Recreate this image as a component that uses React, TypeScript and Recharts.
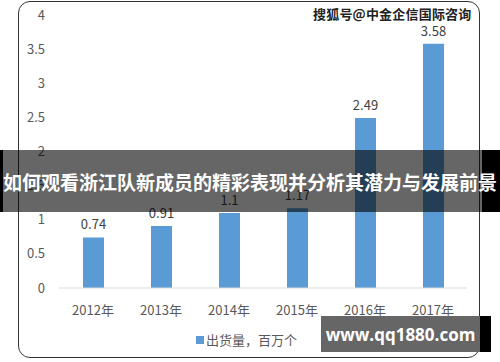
import React from 'react';
import { BarChart, Bar, XAxis, YAxis, LabelList } from 'recharts';

const years = ['2012年', '2013年', '2014年', '2015年', '2016年', '2017年'];
const shipments = [0.74, 0.91, 1.1, 1.17, 2.49, 3.58];
const yTicks = [0, 0.5, 1, 1.5, 2, 2.5, 3, 3.5, 4];
const seriesName = '出货量，百万个';
const bannerText = '如何观看浙江队新成员的精彩表现并分析其潜力与发展前景';
const watermarkTop = '搜狐号@中金企信国际咨询';
const watermarkBottom = 'www.qq1880.com';

const data = years.map((y, i) => ({ year: y, value: shipments[i] }));
const FONT = '"Noto Sans CJK SC", "Open Sans", sans-serif';
const BLUE = '#5b9bd5';

const LegendContent = () => (
  <div style={{ display: 'flex', alignItems: 'center', fontFamily: FONT, fontSize: 13, color: '#595959' }}>
    <span style={{ display: 'inline-block', width: 8, height: 8, background: BLUE, marginRight: 2 }} />
    <span>{seriesName}</span>
  </div>
);

export default function App() {
  return (
    <div style={{ position: 'fixed', left: 0, top: 0, width: 500, height: 362, background: '#fff', overflow: 'hidden' }}>
      <div style={{ position: 'absolute', left: 18, top: 1, width: 462, height: 357, border: '1.5px solid #333', borderRadius: 12, boxSizing: 'border-box' }} />
      <div style={{ position: 'absolute', left: 0, top: 0 }}>
        <BarChart width={500} height={362} data={data} margin={{ top: 15, right: 33, bottom: 44, left: 0 }}>
          <YAxis
            width={59}
            domain={[0, 4]}
            ticks={yTicks}
            axisLine={false}
            tickLine={false}
            tickSize={0}
            tickMargin={14}
            tick={{ fill: '#595959', fontSize: 13, fontFamily: FONT }}
          />
          <XAxis
            dataKey="year"
            height={30}
            axisLine={{ stroke: '#d9d9d9' }}
            tickLine={false}
            tickMargin={12}
            tick={{ fill: '#595959', fontSize: 13, fontFamily: FONT }}
          />
          <Bar dataKey="value" fill={BLUE} barSize={21} isAnimationActive={false}>
            <LabelList dataKey="value" position="top" offset={8} style={{ fill: '#404040', fontSize: 13, fontFamily: FONT }} />
          </Bar>
        </BarChart>
      </div>
      <div style={{ position: 'absolute', left: 196, top: 330 }}>
        <LegendContent />
      </div>
      <div style={{ position: 'absolute', left: 313, top: 4, fontFamily: FONT, fontSize: 13, fontWeight: 700, color: '#222', letterSpacing: 0.2, textShadow: '0 0 2px #fff, 0 0 2px #fff' }}>
        {watermarkTop}
      </div>
      <div style={{ position: 'absolute', left: 0, top: 150, width: 3, height: 62, background: '#000' }} />
      <div style={{ position: 'absolute', left: 482, top: 150, width: 18, height: 62, background: '#000' }} />
      <div style={{ position: 'absolute', left: 3, top: 150, width: 479, height: 62, background: 'rgba(0,0,0,0.6)' }} />
      <div style={{ position: 'absolute', left: 0, top: 150, width: 500, height: 62, display: 'flex', alignItems: 'center', justifyContent: 'center', color: '#fff', fontFamily: FONT, fontWeight: 700, fontSize: 19, whiteSpace: 'nowrap' }}>
        {bannerText}
      </div>
      <div style={{ position: 'absolute', left: 480, top: 316, width: 11, height: 36, background: '#000' }} />
      <div style={{ position: 'absolute', left: 321, top: 316, width: 159, height: 36, background: '#666', display: 'flex', alignItems: 'center', justifyContent: 'center', color: '#fff', fontFamily: '"Open Sans", sans-serif', fontWeight: 700, fontSize: 17, whiteSpace: 'nowrap' }}>
        {watermarkBottom}
      </div>
    </div>
  );
}
